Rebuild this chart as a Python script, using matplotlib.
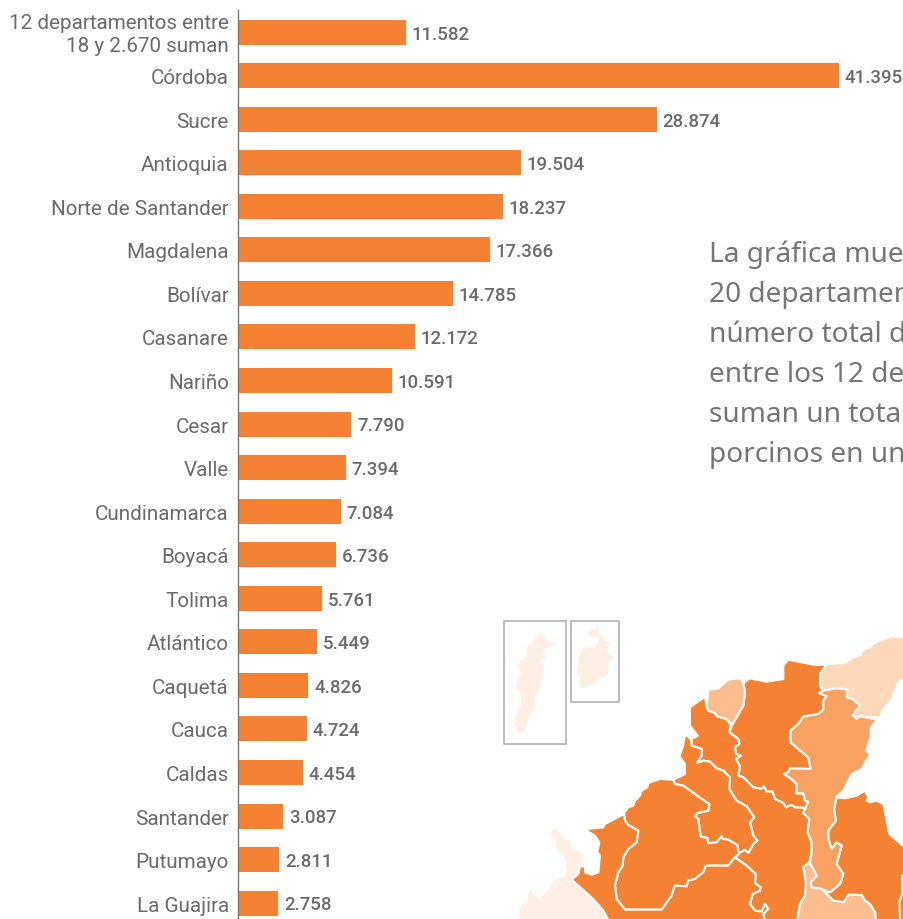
import numpy as np
from matplotlib import pyplot as plt
from matplotlib.patches import Polygon, Rectangle
from matplotlib.transforms import ScaledTranslation

plt.rcParams['font.family'] = ['Roboto', 'DejaVu Sans']

departamentos = ["12 departamentos entre\n18 y 2.670 suman", "Córdoba", "Sucre", "Antioquia",
                 "Norte de Santander", "Magdalena", "Bolívar", "Casanare", "Nariño", "Cesar",
                 "Valle", "Cundinamarca", "Boyacá", "Tolima", "Atlántico", "Caquetá", "Cauca",
                 "Caldas", "Santander", "Putumayo", "La Guajira"]
valores = [11582, 41395, 28874, 19504, 18237, 17366, 14785, 12172, 10591, 7790,
           7394, 7084, 6736, 5761, 5449, 4826, 4724, 4454, 3087, 2811, 2758]
parrafo = ["La gráfica muestra", "20 departamentos", "número total de", "entre los 12 departamentos",
           "suman un total de", "porcinos en un"]

naranja = "#F58233"
gris = "#6A6A6A"

fig = plt.figure(figsize=(9.04, 9.2), dpi=100)

# map and inset boxes go on an overlay in pixel coords (crop coords from the reference, 3x)
mapa = fig.add_axes([0, 0, 1, 1], zorder=0)
mapa.set_xlim(0, 904)
mapa.set_ylim(920, 0)
mapa.axis("off")

def px(puntos):
    # bottom edge points get pushed past the figure so the outline is not seen
    return [(490 + x / 3, 610 + (y if y < 930 else 960) / 3) for x, y in puntos]

palido = "#FEEEE4"
claro = "#FDBD8F"
medio = "#F9A160"
crema = "#FED8B8"

isla1 = [(155,72),(168,88),(175,100),(200,107),(175,115),(158,122),(168,135),(152,130),(168,148),(150,155),
         (162,165),(160,205),(152,212),(152,238),(138,255),(130,300),(100,370),(88,372),(75,350),(75,330),
         (92,290),(93,250),(75,238),(92,195),(85,165),(110,140),(112,110),(130,92)]
isla2 = [(298,65),(325,55),(327,85),(305,85),(298,75)]
isla3 = [(335,75),(343,95),(360,100),(352,120),(358,140),(372,140),(355,165),(355,190),(345,203),(325,208),
         (305,228),(278,238),(268,225),(270,205),(260,185),(270,130),(295,110),(310,117),(322,108),(325,85)]
choco = [(190,658),(210,672),(215,688),(240,697),(250,722),(275,730),(278,760),(265,772),(262,790),(245,812),
         (310,870),(340,905),(370,930),(80,930),(95,885),(112,878),(117,843),(150,870),(200,810),(225,803),
         (232,780),(222,745),(200,720),(198,695),(182,675)]
norte = [(780,208),(830,218),(880,210),(880,170),(895,152),(975,168),(1005,167),(1010,175),(990,195),(990,230),
         (1000,245),(988,252),(1010,262),(1000,275),(1000,302),(985,315),(940,323),(925,345),(902,365),(902,400),
         (955,445),(962,480),(900,478),(895,490),(882,495),(905,510),(920,525),(920,553),(940,553),(945,575),
         (955,578),(945,597),(915,595),(905,588),(888,595),(880,582),(855,570),(848,548),(830,548),(822,532),
         (815,540),(790,535),(760,505),(745,500),(750,472),(738,450),(752,440),(738,435),(735,415),(748,405),
         (745,390),(718,370),(728,345),(760,290),(765,250),(760,222)]
atlantico = [(655,243),(685,238),(715,212),(750,208),(760,222),(765,250),(760,290),(728,345),(720,340),(710,330),
             (682,322),(675,312),(655,305),(650,292)]
centro = [(645,263),(650,292),(655,305),(675,312),(682,322),(710,330),(722,348),(718,370),(745,390),(748,405),
          (735,415),(738,435),(752,440),(738,450),(750,472),(745,500),(760,505),(790,535),(815,540),(822,532),
          (830,548),(848,548),(855,570),(880,582),(888,595),(905,588),(915,595),(945,597),(940,612),(958,630),
          (953,670),(965,700),(965,730),(958,760),(940,775),(948,820),(945,860),(930,885),(918,930),(830,930),
          (820,915),(835,900),(825,885),(815,908),(795,905),(780,885),(788,855),(810,845),(812,835),(795,822),
          (797,795),(770,770),(735,745),(752,730),(765,722),(775,732),(790,705),(802,695),(790,680),(780,640),
          (793,625),(770,592),(740,575),(718,540),(720,505),(700,485),(680,478),(660,458),(640,455),(622,462),
          (635,440),(635,420),(605,410),(605,390),(623,380),(600,350),(600,295)]
sucre = [(592,380),(603,392),(605,410),(635,420),(635,440),(622,462),(640,455),(660,458),(680,478),(700,485),
         (720,505),(718,540),(740,575),(770,592),(793,625),(780,640),(790,680),(802,695),(790,705),(775,732),
         (765,722),(752,730),(745,728),(742,708),(715,692),(698,690),(695,682),(680,700),(655,703),(652,687),
         (632,683),(625,630),(615,622),(622,612),(655,605),(658,585),(635,570),(605,548),(580,530),(555,525),
         (550,512),(585,495),(585,465),(568,442),(578,415),(585,380)]
cordoba = [(475,522),(510,510),(550,512),(555,525),(580,530),(605,548),(635,570),(658,585),(655,605),(622,612),
           (615,622),(625,630),(632,683),(652,687),(655,703),(680,700),(695,682),(698,690),(715,692),(742,708),
           (745,728),(750,732),(735,745),(715,770),(648,770),(640,790),(615,810),(595,815),(590,832),(555,830),
           (545,860),(515,902),(405,902),(380,870),(375,830),(385,790),(398,770),(400,745),(415,720),(440,700),
           (445,665),(415,648),(405,635),(402,612),(415,595),(430,590),(435,575),(450,560),(455,545),(472,535)]
antioquia = [(290,660),(340,655),(345,645),(402,615),(405,635),(415,648),(445,665),(440,700),(415,720),(400,745),
             (398,770),(385,790),(375,830),(380,870),(405,902),(515,902),(545,860),(555,830),(590,832),(595,815),
             (615,810),(640,790),(648,770),(715,770),(735,745),(770,770),(797,795),(795,822),(812,835),(810,845),
             (788,855),(780,885),(795,905),(815,908),(825,885),(835,900),(820,915),(830,930),(370,930),(340,905),
             (310,870),(245,812),(265,795),(270,772),(285,772),(285,790),(305,797),(325,790),(330,740),(322,730),
             (328,700),(315,680),(295,668)]
guajira = [(1010,165),(1065,162),(1090,145),(1112,138),(1115,125),(1140,115),(1155,100),(1205,82),(1250,85),(1250,205),
           (1225,220),(1205,270),(1180,300),(1170,325),(1110,322),(1100,330),(1088,318),(1110,290),(1090,272),(1070,265),
           (1072,242),(1040,238),(1000,245),(990,230),(990,195)]
cesar = [(1000,245),(1040,238),(1072,242),(1070,265),(1090,272),(1110,290),(1088,318),(1100,330),(1110,322),(1162,332),
         (1142,355),(1142,385),(1128,425),(1140,435),(1115,480),(1085,495),(1060,545),(1040,562),(1032,600),(1038,635),
         (1015,665),(1015,690),(1025,720),(1040,700),(1055,710),(1040,765),(1060,795),(1050,825),(1020,850),(995,840),
         (965,835),(962,820),(980,800),(960,762),(965,730),(965,700),(953,670),(958,630),(940,612),(955,578),
         (945,575),(940,553),(920,553),(920,525),(905,510),(882,495),(895,490),(900,478),(962,480),(955,445),
         (902,400),(902,365),(925,345),(940,323),(985,315),(1000,302),(1000,275),(1010,262),(988,252)]
santander = [(1125,545),(1135,565),(1130,575),(1140,580),(1160,575),(1180,585),(1198,675),(1250,720),(1250,930),(1160,930),
             (1155,910),(1140,885),(1125,875),(1115,858),(1075,857),(1062,880),(1030,875),(1000,845),(1020,850),(1050,825),
             (1060,795),(1040,765),(1055,710),(1040,700),(1025,720),(1015,690),(1015,665),(1038,635),(1032,600),(1040,565),
             (1065,568),(1100,560)]
abajo = [(965,835),(995,840),(1030,875),(1062,880),(1075,857),(1115,858),(1125,875),(1140,885),(1155,910),(1160,930),
         (918,930),(930,885),(945,860),(948,820),(940,775),(958,760),(980,800),(962,820)]
borde = [(1250,795),(1236,800),(1238,850),(1228,880),(1232,930),(1250,930)]

for poly in [isla1, isla2, isla3, choco]:
    mapa.add_patch(Polygon(px(poly), closed=True, fc=palido, ec="none"))
for poly, color in [(norte, naranja), (centro, naranja), (sucre, naranja), (cordoba, naranja), (antioquia, naranja),
                    (santander, naranja), (borde, naranja), (atlantico, claro), (guajira, crema), (cesar, medio),
                    (abajo, claro)]:
    mapa.add_patch(Polygon(px(poly), closed=True, fc=color, ec="white", lw=1.5, joinstyle="round"))

mapa.add_patch(Rectangle((504.5, 621.5), 62, 123, fc="none", ec="#ABABAB", lw=1.1))
mapa.add_patch(Rectangle((571.5, 621.5), 47.5, 81, fc="none", ec="#ABABAB", lw=1.1))

# bars: axes spans the spine, x=238.5px, y=11px to bottom
ax = fig.add_axes([238.5 / 904, 0, 1 - 238.5 / 904, 909 / 920], zorder=1)
ax.patch.set_alpha(0)
y = np.arange(len(valores))
ax.barh(y, valores, height=0.574, color=naranja)
ax.set_xlim(0, 665.5 / 600 * 41395)
ax.set_ylim(20.365, -0.509)
ax.set_xticks([])
ax.set_yticks(y)
ax.set_yticklabels(departamentos, fontsize=14.9, color=gris, linespacing=1.32)
ax.tick_params(axis="y", length=0, pad=7)
# two line label sits a bit high in the original
etiqueta = ax.get_yticklabels()[0]
etiqueta.set_transform(etiqueta.get_transform() + ScaledTranslation(0, 2.5 / 100, fig.dpi_scale_trans))
for s in ["top", "right", "bottom"]:
    ax.spines[s].set_visible(False)
ax.spines["left"].set_color("#777777")
ax.spines["left"].set_linewidth(1.0)

for i, v in enumerate(valores):
    ax.annotate(f"{v:,}".replace(",", "."), (v, i), xytext=(4, -1), textcoords="offset points",
                va="center", ha="left", fontsize=13.4, fontweight="medium", color=gris, annotation_clip=False)

for i, linea in enumerate(parrafo):
    fig.text(709 / 904, 1 - (255 + i * 40) / 920, linea, fontsize=20.2, color="#757575", fontweight="light",
             family=["Noto Sans", "DejaVu Sans"], va="center", ha="left")

fig.savefig("out.png", dpi=100)
